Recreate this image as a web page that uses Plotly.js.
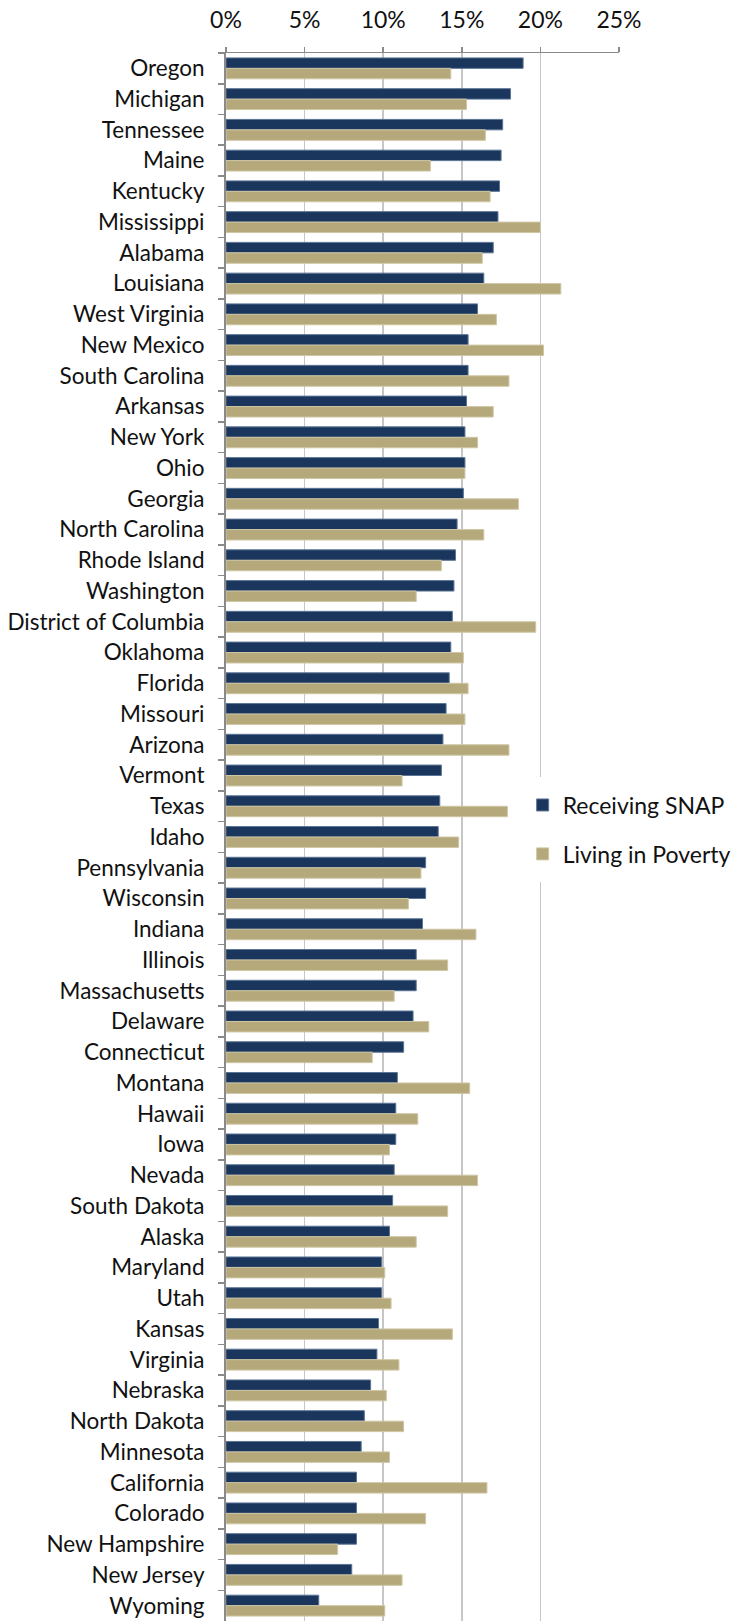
<!DOCTYPE html>
<html>
<head>
<meta charset="utf-8">
<script src="https://cdn.plot.ly/plotly-3.0.1.min.js"></script>
<style>html,body{margin:0;padding:0;background:#fff;}#chart{width:743px;height:1621px;}</style>
</head>
<body>
<div id="chart"></div>
<script>
const states = ["Oregon","Michigan","Tennessee","Maine","Kentucky","Mississippi","Alabama","Louisiana","West Virginia","New Mexico","South Carolina","Arkansas","New York","Ohio","Georgia","North Carolina","Rhode Island","Washington","District of Columbia","Oklahoma","Florida","Missouri","Arizona","Vermont","Texas","Idaho","Pennsylvania","Wisconsin","Indiana","Illinois","Massachusetts","Delaware","Connecticut","Montana","Hawaii","Iowa","Nevada","South Dakota","Alaska","Maryland","Utah","Kansas","Virginia","Nebraska","North Dakota","Minnesota","California","Colorado","New Hampshire","New Jersey","Wyoming"];
const snap = [18.9,18.1,17.6,17.5,17.4,17.3,17.0,16.4,16.0,15.4,15.4,15.3,15.2,15.2,15.1,14.7,14.6,14.5,14.4,14.3,14.2,14.0,13.8,13.7,13.6,13.5,12.7,12.7,12.5,12.1,12.1,11.9,11.3,10.9,10.8,10.8,10.7,10.6,10.4,9.9,9.9,9.7,9.6,9.2,8.8,8.6,8.3,8.3,8.3,8.0,5.9];
const poverty = [14.3,15.3,16.5,13.0,16.8,20.0,16.3,21.3,17.2,20.2,18.0,17.0,16.0,15.2,18.6,16.4,13.7,12.1,19.7,15.1,15.4,15.2,18.0,11.2,17.9,14.8,12.4,11.6,15.9,14.1,10.7,12.9,9.3,15.5,12.2,10.4,16.0,14.1,12.1,10.1,10.5,14.4,11.0,10.2,11.3,10.4,16.6,12.7,7.1,11.2,10.1];
const seriesNames = ["Receiving SNAP","Living in Poverty"];

const FONT = "Lato, 'Open Sans', sans-serif";
const traces = [
  {type:"bar", orientation:"h", name:seriesNames[0], y:states, x:snap.map(v=>v/100), legend:"legend",
   marker:{color:"#1a365d", line:{color:"#5c7595", width:1}}, hoverinfo:"x+y"},
  {type:"bar", orientation:"h", name:seriesNames[1], y:states, x:poverty.map(v=>v/100), legend:"legend2",
   marker:{color:"#b5a97c", line:{color:"#cfc6a4", width:1}}, hoverinfo:"x+y"}
];
const legendCommon = {xanchor:"left", yanchor:"middle", bgcolor:"#fff", bordercolor:"#fff", borderwidth:7,
  font:{family:FONT, size:23, color:"#111"}, itemclick:false, itemdoubleclick:false};
const layout = {
  width:743, height:1621,
  margin:{l:226, r:124, t:53, b:0, pad:0},
  paper_bgcolor:"#fff", plot_bgcolor:"#fff",
  barmode:"group", bargap:0.32, bargroupgap:0,
  font:{family:FONT, size:22, color:"#111"},
  xaxis:{side:"top", range:[0,0.25], dtick:0.05, tick0:0, tickformat:".0%",
    showgrid:true, gridcolor:"#c6c6c6", gridwidth:1.5, zeroline:false,
    showline:true, linecolor:"#8a8a8a", linewidth:1.5,
    ticks:"outside", ticklen:5, tickcolor:"#8a8a8a", tickwidth:1.5,
    tickfont:{family:FONT, size:23, color:"#111"}, ticklabelstandoff:9, fixedrange:true},
  yaxis:{type:"category", autorange:"reversed", showgrid:false, zeroline:false,
    showline:true, linecolor:"#8a8a8a", linewidth:2,
    ticks:"outside", tickson:"boundaries", ticklen:6, tickcolor:"#8a8a8a", tickwidth:1.5,
    tickfont:{family:FONT, size:22.5, color:"#111"}, ticklabelstandoff:15, fixedrange:true},
  legend:Object.assign({x:0.737, y:0.5204}, legendCommon),
  legend2:Object.assign({x:0.737, y:0.4892}, legendCommon),
  showlegend:true
};
Plotly.newPlot("chart", traces, layout, {displayModeBar:false, staticPlot:true});
</script>
</body>
</html>
